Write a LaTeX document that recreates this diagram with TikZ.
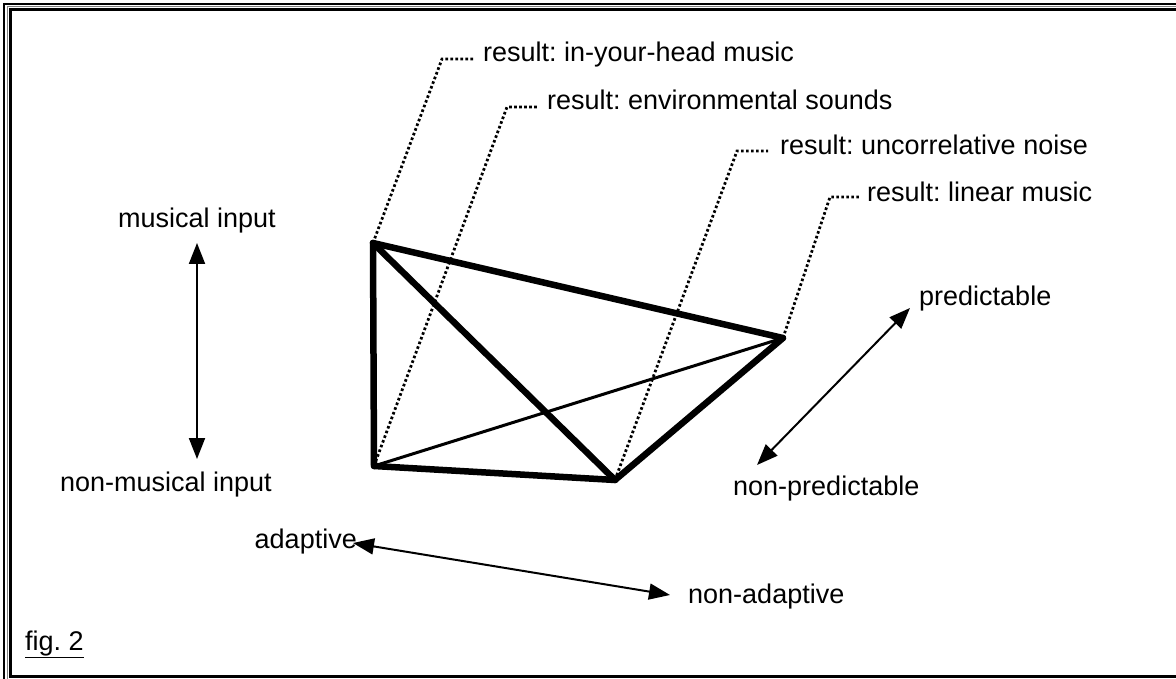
\documentclass[tikz,border=0pt]{standalone}
\usepackage{fontspec}
\setmainfont{Liberation Sans}
\usetikzlibrary{arrows.meta}
\tikzset{
  font={\fontsize{27pt}{32pt}\selectfont\frenchspacing}}

\begin{document}
\begin{tikzpicture}[x=1pt, y=-1pt]

        \tikzset{edge/.style = {line width=6.5pt, line cap=round, line join=round},
                 thinedge/.style = {line width=3pt},
                 lead/.style = {line width=2.8pt, dash pattern=on 2.6pt off 2.4pt},
                 axis/.style = {<->, > = {Triangle[length=21pt, width=16pt]}, line width=2pt},
                 txt/.style = {inner sep=0pt}}

        \useasboundingbox (0,0) rectangle (1176,679);
        \clip (0,0) rectangle (1176,679);

        % frame
        \draw[line width=2.5pt] (4,4) rectangle (1200,700);
        \draw[line width=1pt, gray] (7,7) rectangle (1196,696);
        \draw[line width=3pt] (10,9.5) rectangle (1190,676);

        % vertices
        \coordinate (a) at (373,243);
        \coordinate (b) at (374,466);
        \coordinate (c) at (615,480);
        \coordinate (d) at (783,338);

        % edges
        \draw[thinedge] (b) -- (d);
        \draw[edge] (a) -- (b);
        \draw[edge] (a) -- (c);
        \draw[edge] (a) -- (d);
        \draw[edge] (b) -- (c);
        \draw[edge] (c) -- (d);

        % results
        \node[txt, anchor=base west] (ra) at (483,62) {result: in-your-head music};
        \node[txt, anchor=base west] (rb) at (547,110) {result: environmental sounds};
        \node[txt, anchor=base west] (rc) at (780,155) {result: uncorrelative noise};
        \node[txt, anchor=base west] (rd) at (867,202) {result: linear music};
        \coordinate (ka) at (442,59);  \coordinate (ea) at (474,59);
        \coordinate (kb) at (507,107); \coordinate (eb) at (539,107);
        \coordinate (kc) at (737,151); \coordinate (ec) at (768,151);
        \coordinate (kd) at (830,197); \coordinate (ed) at (861,197);
        \draw[lead] (a) -- (ka) -- (ea);
        \draw[lead] (b) -- (kb) -- (eb);
        \draw[lead] (c) -- (kc) -- (ec);
        \draw[lead] (d) -- (kd) -- (ed);

        % input axis
        \node[txt] (mus) at (197,221) {musical input};
        \node[txt] (nonmus) at (166,485) {non-musical input};
        \coordinate (mtop) at (197,243);
        \coordinate (mbot) at (197,459);
        \draw[axis] (mtop) -- (mbot);

        % predictability axis
        \node[txt, anchor=west] (pred) at (919,299) {predictable};
        \node[txt, anchor=west] (nonpred) at (733,489) {non-predictable};
        \coordinate (ptop) at (910,308);
        \coordinate (pbot) at (757,465);
        \draw[axis] (pbot) -- (ptop);

        % adaptivity axis
        \node[txt, anchor=east] (adap) at (357,542) {adaptive};
        \node[txt, anchor=west] (nonadap) at (688,597) {non-adaptive};
        \coordinate (aleft) at (353,543);
        \coordinate (aright) at (670,595);
        \draw[axis] (aleft) -- (aright);

        \node[txt, anchor=base west] (fig) at (25,650) {\underline{fig. 2}};

\end{tikzpicture}
\end{document}
